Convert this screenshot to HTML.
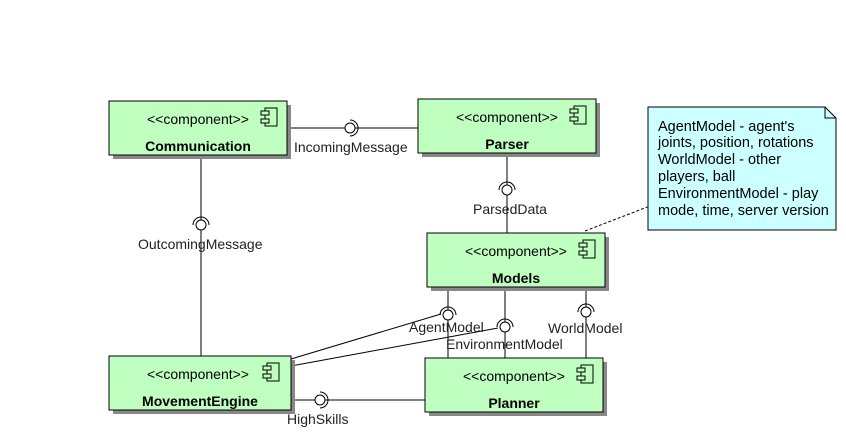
<!DOCTYPE html>
<html><head><meta charset="utf-8"><style>
html,body{margin:0;padding:0;background:#fff;width:846px;height:437px;overflow:hidden}
text{font-family:"Liberation Sans","DejaVu Sans",sans-serif;font-size:14px}
.n{font-size:14.5px}
</style></head><body>
<svg width="846" height="437" xmlns="http://www.w3.org/2000/svg">
<defs>
<g id="ic"><rect x="0" y="0" width="12" height="18" fill="none" stroke="#000"/><rect x="-4" y="3" width="8" height="4" fill="#bfffbf" stroke="#000"/><rect x="-4" y="11" width="8" height="4" fill="#bfffbf" stroke="#000"/></g>
</defs>
<g stroke="#000" fill="none" stroke-width="1">
<line x1="287" y1="128" x2="418" y2="128"/>
<line x1="507" y1="153" x2="507" y2="233"/>
<line x1="201" y1="155" x2="201" y2="356"/>
<line x1="448" y1="287" x2="448" y2="358"/>
<line x1="505" y1="287" x2="505" y2="358"/>
<line x1="586" y1="287" x2="586" y2="358"/>
<line x1="291" y1="359" x2="441" y2="314"/>
<line x1="291" y1="366" x2="498" y2="328"/>
<line x1="291" y1="400" x2="425" y2="400"/>
<line x1="585" y1="231" x2="650" y2="206" stroke-dasharray="3,2"/>
</g>
<g stroke="#000" fill="#fff">
<circle cx="350" cy="128" r="5"/><path d="M350,120 A8,8 0 0 1 350,136" fill="none"/>
<circle cx="507" cy="190" r="5"/><path d="M499,190 A8,8 0 0 1 515,190" fill="none"/>
<circle cx="201" cy="225" r="5"/><path d="M193,225 A8,8 0 0 1 209,225" fill="none"/>
<circle cx="448" cy="315" r="5"/><path d="M440,315 A8,8 0 0 1 456,315" fill="none"/>
<circle cx="505" cy="327" r="5"/><path d="M497,327 A8,8 0 0 1 513,327" fill="none"/>
<circle cx="586" cy="312" r="5"/><path d="M578,312 A8,8 0 0 1 594,312" fill="none"/>
<circle cx="320" cy="400" r="5"/><path d="M320,392 A8,8 0 0 1 320,408" fill="none"/>
</g>
<g fill="#222">
<text x="294" y="152">IncomingMessage</text>
<text x="473" y="214">ParsedData</text>
<text x="138" y="249">OutcomingMessage</text>
<text x="409" y="332">AgentModel</text>
<text x="446" y="349">EnvironmentModel</text>
<text x="548" y="333">WorldModel</text>
<text x="287" y="424">HighSkills</text>
</g>
<g>
<rect x="113" y="105" width="178" height="54" fill="#888"/>
<rect x="109" y="101" width="178" height="54" fill="#bfffbf" stroke="#000"/>
<text x="147" y="124" fill="#000">&lt;&lt;component&gt;&gt;</text>
<use href="#ic" x="265" y="108"/>
<text x="198" y="151" text-anchor="middle" font-weight="bold" fill="#000">Communication</text>
</g>
<g>
<rect x="422" y="103" width="178" height="54" fill="#888"/>
<rect x="418" y="99" width="178" height="54" fill="#bfffbf" stroke="#000"/>
<text x="456" y="122" fill="#000">&lt;&lt;component&gt;&gt;</text>
<use href="#ic" x="574" y="106"/>
<text x="507" y="149" text-anchor="middle" font-weight="bold" fill="#000">Parser</text>
</g>
<g>
<rect x="431" y="237" width="178" height="54" fill="#888"/>
<rect x="427" y="233" width="178" height="54" fill="#bfffbf" stroke="#000"/>
<text x="465" y="256" fill="#000">&lt;&lt;component&gt;&gt;</text>
<use href="#ic" x="583" y="240"/>
<text x="516" y="283" text-anchor="middle" font-weight="bold" fill="#000">Models</text>
</g>
<g>
<rect x="113" y="360" width="182" height="54" fill="#888"/>
<rect x="109" y="356" width="182" height="54" fill="#bfffbf" stroke="#000"/>
<text x="147" y="379" fill="#000">&lt;&lt;component&gt;&gt;</text>
<use href="#ic" x="267" y="363"/>
<text x="200" y="406" text-anchor="middle" font-weight="bold" fill="#000">MovementEngine</text>
</g>
<g>
<rect x="429" y="362" width="178" height="54" fill="#888"/>
<rect x="425" y="358" width="178" height="54" fill="#bfffbf" stroke="#000"/>
<text x="463" y="381" fill="#000">&lt;&lt;component&gt;&gt;</text>
<use href="#ic" x="581" y="365"/>
<text x="514" y="408" text-anchor="middle" font-weight="bold" fill="#000">Planner</text>
</g>
<path d="M648,107 H825 L836,118 V230 H648 Z" fill="#ccffff" stroke="#000"/>
<path d="M825,107 V118 H836" fill="none" stroke="#000"/>
<g fill="#000">
<text class="n" x="658" y="131">AgentModel - agent's</text>
<text class="n" x="658" y="147">joints, position, rotations</text>
<text class="n" x="658" y="164">WorldModel - other</text>
<text class="n" x="658" y="181">players, ball</text>
<text class="n" x="658" y="198">EnvironmentModel - play</text>
<text class="n" x="658" y="215">mode, time, server version</text>
</g>
</svg>
</body></html>
